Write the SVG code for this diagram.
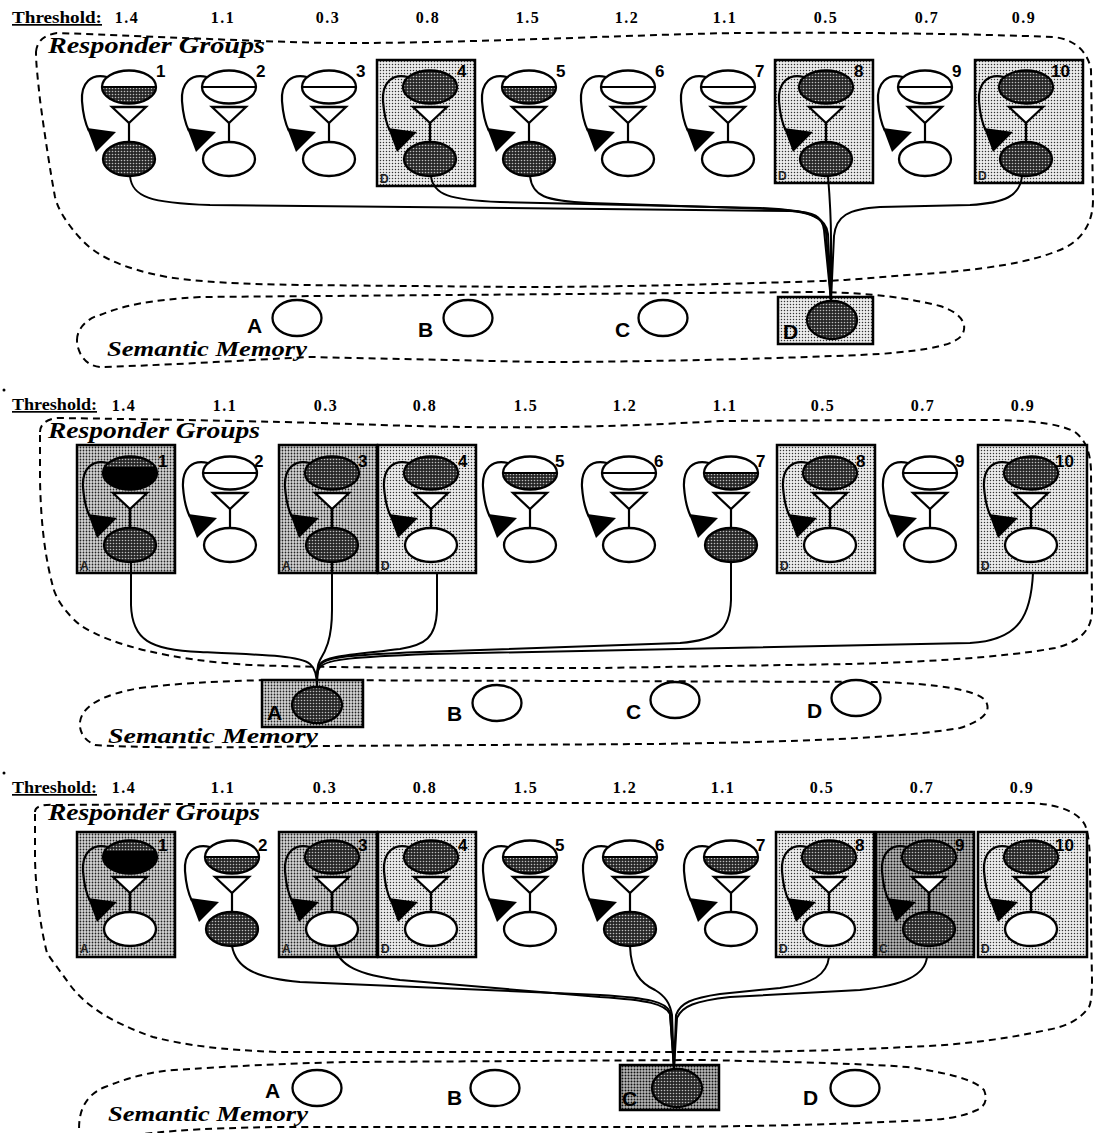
<svg xmlns="http://www.w3.org/2000/svg" width="1094" height="1133" viewBox="0 0 1094 1133">
<style>
  .ln{fill:none;stroke:#000;stroke-width:2.2}
  .cn{fill:none;stroke:#000;stroke-width:2}
  .dash{fill:none;stroke:#000;stroke-width:2;stroke-dasharray:7 5}
  .wt{fill:#fff;stroke:#000;stroke-width:2.3}
  .dk{fill:url(#pd);stroke:#000;stroke-width:2.3}
  .bxL{fill:url(#pl);stroke:#000;stroke-width:2.5}
  .bxM{fill:url(#pm);stroke:#000;stroke-width:2.5}
  .bxK{fill:url(#pk);stroke:#000;stroke-width:2.5}
  .thr{font-family:"Liberation Serif","Times New Roman",serif;font-weight:bold;font-size:16px;letter-spacing:1.5px}
  .thl{font-family:"Liberation Serif","Times New Roman",serif;font-weight:bold;font-size:17px;text-decoration:underline}
  .ttl{font-family:"Liberation Serif","Times New Roman",serif;font-weight:bold;font-style:italic;font-size:23px}
  .smt{font-family:"Liberation Serif","Times New Roman",serif;font-weight:bold;font-style:italic;font-size:20px}
  .num{font-family:"Liberation Sans",Arial,sans-serif;font-weight:bold;font-size:17px}
  .sem{font-family:"Liberation Sans",Arial,sans-serif;font-weight:bold;font-size:21px}
  .tag{font-family:"Liberation Sans",Arial,sans-serif;font-weight:bold;font-size:12px;fill:#222}
</style>
<defs>
  <!-- stipple fills -->
  <pattern id="pd" width="3" height="3" patternUnits="userSpaceOnUse"><rect width="3" height="3" fill="#262626"/><circle cx="1.5" cy="1.5" r="0.8" fill="#bdbdbd"/></pattern>
  <pattern id="pl" width="3" height="3" patternUnits="userSpaceOnUse"><rect width="3" height="3" fill="#ececec"/><circle cx="1.5" cy="1.5" r="0.72" fill="#333"/></pattern>
  <pattern id="pm" width="3" height="3" patternUnits="userSpaceOnUse"><rect width="3" height="3" fill="#d6d6d6"/><circle cx="1.5" cy="1.5" r="0.9" fill="#222"/></pattern>
  <pattern id="pk" width="3" height="3" patternUnits="userSpaceOnUse"><rect width="3" height="3" fill="#b8b8b8"/><circle cx="1.5" cy="1.5" r="1.0" fill="#111"/></pattern>
  <!-- responder unit parts, origin at centre of the upper ellipse -->
  <g id="fb"><path class="ln" d="M-22,-10 C-38,-14 -48,-4 -47,14 C-46,28 -44,36 -40,44"/><polygon points="-42,41 -13,45 -33,65" fill="#000"/></g>
  <g id="ts"><polygon class="wt" points="-17,20 17,20 0,36"/><line class="ln" x1="0" y1="36" x2="0" y2="55"/></g>
  <g id="t0"><ellipse class="wt" rx="27" ry="16.5"/><line class="ln" x1="-27" y1="0" x2="27" y2="0"/></g>
  <g id="t1"><ellipse rx="27" ry="16.5" fill="#fff"/><path d="M-27,0 A27,16.5 0 0 0 27,0 Z" fill="url(#pd)"/><line class="ln" x1="-27" y1="0" x2="27" y2="0"/><ellipse rx="27" ry="16.5" fill="none" stroke="#000" stroke-width="2.3"/></g>
  <g id="t2"><ellipse class="dk" rx="27" ry="16.5"/></g>
  <g id="t3"><ellipse rx="27" ry="16.5" fill="url(#pd)"/><path d="M-25.15,-6 A27,16.5 0 1 0 25.15,-6 Z" fill="#000"/><ellipse rx="27" ry="16.5" fill="none" stroke="#000" stroke-width="2.3"/></g>
  <ellipse id="b0" class="wt" cx="0" cy="72" rx="26" ry="17"/>
  <ellipse id="b1" class="dk" cx="0" cy="72" rx="26" ry="17"/>
</defs>
<rect width="1094" height="1133" fill="#fff"/>

<!-- ===================== panel 1 ===================== -->
<g id="panel-1">
  <text class="thl" x="12" y="23" textLength="90" lengthAdjust="spacingAndGlyphs">Threshold:</text>
  <g class="thr" text-anchor="middle">
    <text x="127" y="23">1.4</text><text x="223" y="23">1.1</text><text x="328" y="23">0.3</text><text x="428" y="23">0.8</text><text x="528" y="23">1.5</text>
    <text x="627" y="23">1.2</text><text x="725" y="23">1.1</text><text x="826" y="23">0.5</text><text x="927" y="23">0.7</text><text x="1024" y="23">0.9</text>
  </g>
  <path class="dash" d="M36,52 C37,41 44,35 57,33 C200,38 300,44 367,43 C500,42 650,34 740,33 C850,32 980,34 1053,37 C1075,39 1088,52 1091,70 L1093,200 C1093,225 1080,242 1060,250 C1030,262 990,270 907,275 C870,278 850,280 823,281 C700,285 600,287 520,287 L300,285 C240,284 200,282 167,277 C120,268 95,255 80,238 C62,218 57,205 55,197 C50,170 44,130 40,100 C38,80 36,65 36,52 Z"/>
  <text class="ttl" x="48" y="53" textLength="217" lengthAdjust="spacingAndGlyphs">Responder Groups</text>
  <path class="dash" d="M77,340 C77,328 88,318 100,315 C125,305 150,300 200,297 L820,292 C870,293 910,298 940,306 C962,313 968,325 962,335 C955,345 930,350 880,354 C800,358 650,362 540,362 L310,357 C250,360 150,366 100,367 C85,366 77,352 77,340 Z"/>
  <text class="smt" x="107" y="356" textLength="200" lengthAdjust="spacingAndGlyphs">Semantic Memory</text>

  <g id="r1-n1" transform="translate(129,87)"><use href="#fb"/><use href="#ts"/><use href="#t1"/><use href="#b1"/><text class="num" x="27" y="-10">1</text></g>
  <g id="r1-n2" transform="translate(229,87)"><use href="#fb"/><use href="#ts"/><use href="#t0"/><use href="#b0"/><text class="num" x="27" y="-10">2</text></g>
  <g id="r1-n3" transform="translate(329,87)"><use href="#fb"/><use href="#ts"/><use href="#t0"/><use href="#b0"/><text class="num" x="27" y="-10">3</text></g>
  <g id="r1-n4" transform="translate(430,87)"><rect class="bxL" x="-53" y="-27" width="98" height="126"/><use href="#fb"/><use href="#ts"/><use href="#t2"/><use href="#b1"/><text class="num" x="27" y="-10">4</text><text class="tag" x="-50" y="96">D</text></g>
  <g id="r1-n5" transform="translate(529,87)"><use href="#fb"/><use href="#ts"/><use href="#t1"/><use href="#b1"/><text class="num" x="27" y="-10">5</text></g>
  <g id="r1-n6" transform="translate(628,87)"><use href="#fb"/><use href="#ts"/><use href="#t0"/><use href="#b0"/><text class="num" x="27" y="-10">6</text></g>
  <g id="r1-n7" transform="translate(728,87)"><use href="#fb"/><use href="#ts"/><use href="#t0"/><use href="#b0"/><text class="num" x="27" y="-10">7</text></g>
  <g id="r1-n8" transform="translate(826,87)"><rect class="bxL" x="-51" y="-27" width="98" height="123"/><use href="#fb"/><use href="#ts"/><use href="#t2"/><use href="#b1"/><text class="num" x="28" y="-10">8</text><text class="tag" x="-48" y="93">D</text></g>
  <g id="r1-n9" transform="translate(925,87)"><use href="#fb"/><use href="#ts"/><use href="#t0"/><use href="#b0"/><text class="num" x="27" y="-10">9</text></g>
  <g id="r1-n10" transform="translate(1026,87)"><rect class="bxL" x="-51" y="-27" width="108" height="123"/><use href="#fb"/><use href="#ts"/><use href="#t2"/><use href="#b1"/><text class="num" x="25" y="-10">10</text><text class="tag" x="-48" y="93">D</text></g>

  <g id="m1-A"><text class="sem" x="247" y="333">A</text><ellipse class="wt" cx="297" cy="318" rx="24.5" ry="18"/></g>
  <g id="m1-B"><text class="sem" x="418" y="337">B</text><ellipse class="wt" cx="468" cy="318" rx="24.5" ry="18"/></g>
  <g id="m1-C"><text class="sem" x="615" y="337">C</text><ellipse class="wt" cx="663" cy="318" rx="24.5" ry="18"/></g>
  <g id="m1-D"><rect class="bxL" x="778" y="297" width="95" height="47"/><text class="sem" x="783" y="339">D</text><ellipse class="dk" cx="832" cy="320" rx="25" ry="19"/></g>
</g>

<!-- ===================== panel 2 ===================== -->
<g id="panel-2">
  <circle cx="4" cy="390" r="1.5" fill="#000"/>
  <text class="thl" x="12" y="410" textLength="85" lengthAdjust="spacingAndGlyphs">Threshold:</text>
  <g class="thr" text-anchor="middle">
    <text x="124" y="411">1.4</text><text x="225" y="411">1.1</text><text x="326" y="411">0.3</text><text x="425" y="411">0.8</text><text x="526" y="411">1.5</text>
    <text x="625" y="411">1.2</text><text x="725" y="411">1.1</text><text x="823" y="411">0.5</text><text x="923" y="411">0.7</text><text x="1023" y="411">0.9</text>
  </g>
  <path class="dash" d="M40,432 C40,424 47,419 57,418 C200,420 300,422 380,425 C500,429 600,428 720,421 C850,420 950,420 1000,420 C1040,421 1062,425 1075,432 C1085,440 1090,450 1091,470 L1092,610 C1092,630 1080,642 1055,648 C1000,658 920,662 850,664 L600,668 C450,668 330,668 250,665 C170,660 110,645 80,625 C62,610 55,595 53,587 C46,560 41,530 40,480 Z"/>
  <text class="ttl" x="48" y="438" textLength="212" lengthAdjust="spacingAndGlyphs">Responder Groups</text>
  <path class="dash" d="M80,722 C82,705 105,694 140,688 C190,682 230,681 270,680 L880,682 C940,684 975,690 985,700 C992,710 985,720 960,728 C900,738 800,742 650,744 L320,746 C220,748 140,748 95,745 C84,740 79,732 80,722 Z"/>
  <text class="smt" x="108" y="743" textLength="210" lengthAdjust="spacingAndGlyphs">Semantic Memory</text>

  <g id="r2-n1" transform="translate(130,473)"><rect class="bxM" x="-53" y="-28" width="98" height="128"/><use href="#fb"/><use href="#ts"/><use href="#t3"/><use href="#b1"/><text class="num" x="28" y="-6">1</text><text class="tag" x="-50" y="97">A</text></g>
  <g id="r2-n2" transform="translate(230,473)"><use href="#fb"/><use href="#ts"/><use href="#t0"/><use href="#b0"/><text class="num" x="24" y="-6">2</text></g>
  <g id="r2-n3" transform="translate(332,473)"><rect class="bxM" x="-53" y="-28" width="98" height="128"/><use href="#fb"/><use href="#ts"/><use href="#t2"/><use href="#b1"/><text class="num" x="26" y="-6">3</text><text class="tag" x="-50" y="97">A</text></g>
  <g id="r2-n4" transform="translate(431,473)"><rect class="bxL" x="-53" y="-28" width="98" height="128"/><use href="#fb"/><use href="#ts"/><use href="#t2"/><use href="#b0"/><text class="num" x="27" y="-6">4</text><text class="tag" x="-50" y="97">D</text></g>
  <g id="r2-n5" transform="translate(530,473)"><use href="#fb"/><use href="#ts"/><use href="#t1"/><use href="#b0"/><text class="num" x="25" y="-6">5</text></g>
  <g id="r2-n6" transform="translate(629,473)"><use href="#fb"/><use href="#ts"/><use href="#t0"/><use href="#b0"/><text class="num" x="25" y="-6">6</text></g>
  <g id="r2-n7" transform="translate(731,473)"><use href="#fb"/><use href="#ts"/><use href="#t1"/><use href="#b1"/><text class="num" x="25" y="-6">7</text></g>
  <g id="r2-n8" transform="translate(830,473)"><rect class="bxL" x="-53" y="-28" width="98" height="128"/><use href="#fb"/><use href="#ts"/><use href="#t2"/><use href="#b0"/><text class="num" x="26" y="-6">8</text><text class="tag" x="-50" y="97">D</text></g>
  <g id="r2-n9" transform="translate(930,473)"><use href="#fb"/><use href="#ts"/><use href="#t0"/><use href="#b0"/><text class="num" x="25" y="-6">9</text></g>
  <g id="r2-n10" transform="translate(1031,473)"><rect class="bxL" x="-53" y="-28" width="109" height="128"/><use href="#fb"/><use href="#ts"/><use href="#t2"/><use href="#b0"/><text class="num" x="24" y="-6">10</text><text class="tag" x="-50" y="97">D</text></g>

  <g id="m2-A"><rect class="bxM" x="262" y="680" width="101" height="47"/><text class="sem" x="267" y="720">A</text><ellipse class="dk" cx="317" cy="705" rx="25" ry="18"/></g>
  <g id="m2-B"><text class="sem" x="447" y="721">B</text><ellipse class="wt" cx="497" cy="703" rx="24.5" ry="18"/></g>
  <g id="m2-C"><text class="sem" x="626" y="719">C</text><ellipse class="wt" cx="675" cy="700" rx="24.5" ry="18"/></g>
  <g id="m2-D"><text class="sem" x="807" y="718">D</text><ellipse class="wt" cx="856" cy="698" rx="24.5" ry="18"/></g>
</g>

<!-- ===================== panel 3 ===================== -->
<g id="panel-3">
  <circle cx="4" cy="773" r="1.5" fill="#000"/>
  <text class="thl" x="12" y="793" textLength="85" lengthAdjust="spacingAndGlyphs">Threshold:</text>
  <g class="thr" text-anchor="middle">
    <text x="124" y="793">1.4</text><text x="223" y="793">1.1</text><text x="325" y="793">0.3</text><text x="425" y="793">0.8</text><text x="526" y="793">1.5</text>
    <text x="625" y="793">1.2</text><text x="723" y="793">1.1</text><text x="822" y="793">0.5</text><text x="922" y="793">0.7</text><text x="1022" y="793">0.9</text>
  </g>
  <path class="dash" d="M35,812 C35,806 44,804 57,805 C200,804 300,803 380,803 L1033,803 C1060,805 1078,812 1085,825 C1089,835 1090,850 1090,870 L1092,980 C1092,995 1091,1003 1089,1007 C1080,1020 1065,1027 1047,1030 C1000,1040 960,1045 907,1047 C850,1050 780,1052 698,1052 L279,1052 C220,1050 185,1045 153,1037 C110,1022 85,1005 70,985 C58,968 50,958 47,953 C40,925 36,893 35,860 Z"/>
  <text class="ttl" x="48" y="820" textLength="212" lengthAdjust="spacingAndGlyphs">Responder Groups</text>
  <path class="dash" d="M80,1140 C77,1120 80,1097 105,1087 C130,1077 150,1072 174,1070 C250,1065 300,1063 349,1062 L700,1060 C800,1062 870,1064 907,1067 C950,1073 975,1080 984,1090 C988,1100 985,1106 977,1110 C960,1118 940,1120 907,1121 C800,1126 700,1127 628,1127 L279,1127 C200,1128 140,1132 110,1140"/>
  <text class="smt" x="108" y="1121" textLength="200" lengthAdjust="spacingAndGlyphs">Semantic Memory</text>

  <g id="r3-n1" transform="translate(130,857)"><rect class="bxM" x="-53" y="-25" width="98" height="125"/><use href="#fb"/><use href="#ts"/><use href="#t3"/><use href="#b0"/><text class="num" x="28" y="-6">1</text><text class="tag" x="-50" y="96">A</text></g>
  <g id="r3-n2" transform="translate(232,857)"><use href="#fb"/><use href="#ts"/><use href="#t1"/><use href="#b1"/><text class="num" x="26" y="-6">2</text></g>
  <g id="r3-n3" transform="translate(332,857)"><rect class="bxM" x="-53" y="-25" width="98" height="125"/><use href="#fb"/><use href="#ts"/><use href="#t2"/><use href="#b0"/><text class="num" x="26" y="-6">3</text><text class="tag" x="-50" y="96">A</text></g>
  <g id="r3-n4" transform="translate(431,857)"><rect class="bxL" x="-53" y="-25" width="98" height="125"/><use href="#fb"/><use href="#ts"/><use href="#t2"/><use href="#b0"/><text class="num" x="27" y="-6">4</text><text class="tag" x="-50" y="96">D</text></g>
  <g id="r3-n5" transform="translate(530,857)"><use href="#fb"/><use href="#ts"/><use href="#t1"/><use href="#b0"/><text class="num" x="25" y="-6">5</text></g>
  <g id="r3-n6" transform="translate(630,857)"><use href="#fb"/><use href="#ts"/><use href="#t1"/><use href="#b1"/><text class="num" x="25" y="-6">6</text></g>
  <g id="r3-n7" transform="translate(731,857)"><use href="#fb"/><use href="#ts"/><use href="#t1"/><use href="#b0"/><text class="num" x="25" y="-6">7</text></g>
  <g id="r3-n8" transform="translate(829,857)"><rect class="bxL" x="-53" y="-25" width="98" height="125"/><use href="#fb"/><use href="#ts"/><use href="#t2"/><use href="#b0"/><text class="num" x="26" y="-6">8</text><text class="tag" x="-50" y="96">D</text></g>
  <g id="r3-n9" transform="translate(929,857)"><rect class="bxK" x="-53" y="-25" width="98" height="125"/><use href="#fb"/><use href="#ts"/><use href="#t2"/><use href="#b1"/><text class="num" x="26" y="-6">9</text><text class="tag" x="-50" y="96">C</text></g>
  <g id="r3-n10" transform="translate(1031,857)"><rect class="bxL" x="-53" y="-25" width="109" height="125"/><use href="#fb"/><use href="#ts"/><use href="#t2"/><use href="#b0"/><text class="num" x="24" y="-6">10</text><text class="tag" x="-50" y="96">D</text></g>

  <g id="m3-A"><text class="sem" x="265" y="1098">A</text><ellipse class="wt" cx="317" cy="1088" rx="24.5" ry="18"/></g>
  <g id="m3-B"><text class="sem" x="447" y="1105">B</text><ellipse class="wt" cx="495" cy="1088" rx="24.5" ry="18"/></g>
  <g id="m3-C"><rect class="bxK" x="620" y="1065" width="99" height="45"/><text class="sem" x="622" y="1106">C</text><ellipse class="dk" cx="677" cy="1088" rx="25" ry="19"/></g>
  <g id="m3-D"><text class="sem" x="803" y="1105">D</text><ellipse class="wt" cx="855" cy="1088" rx="24.5" ry="18"/></g>
</g>

<!-- ===================== connectors ===================== -->
<g id="connectors" class="cn">
  <g id="links-1">
    <path d="M130,176 C132,197 150,203 210,205 L790,211 C815,212 822,216 824,230 L831,301"/>
    <path d="M431,176 C433,195 450,200 500,202 L760,208 C810,210 824,216 826,232 L831,301"/>
    <path d="M530,176 C532,196 545,201 590,203 L770,209 C812,211 826,218 828,234 L831,301"/>
    <path d="M828,176 C830,200 831,215 831,240 L831,301"/>
    <path d="M1022,176 C1020,196 1005,203 970,205 L880,207 C848,209 836,216 834,236 L831,301"/>
  </g>
  <g id="links-2">
    <path d="M131,562 L131,605 C132,640 150,650 200,652 C270,655 300,656 310,664 C315,668 317,675 317,687"/>
    <path d="M332,562 L332,610 C332,640 325,652 320,660 C317,665 317,672 317,687"/>
    <path d="M437,573 L437,610 C436,638 425,645 400,649 C350,655 325,656 320,664 C317,668 317,675 317,687"/>
    <path d="M731,562 L731,600 C730,630 718,640 680,643 L420,652 C350,655 326,657 320,665 C317,669 317,676 317,687"/>
    <path d="M1033,573 C1031,615 1020,640 970,643 L430,654 C355,657 327,659 320,667 C317,671 317,677 317,687"/>
  </g>
  <g id="links-3">
    <path d="M232,946 C236,968 255,978 300,982 L600,995 C650,998 666,1002 670,1012 L674,1069"/>
    <path d="M335,946 C338,966 360,975 400,980 L600,997 C648,1000 665,1004 670,1014 L674,1069"/>
    <path d="M630,946 C631,972 640,983 655,990 C665,996 670,1003 672,1015 L674,1069"/>
    <path d="M829,957 C827,975 812,984 780,988 L720,994 C692,998 680,1003 676,1015 L674,1069"/>
    <path d="M927,957 C925,975 905,985 860,990 L730,997 C695,1001 682,1006 677,1018 L674,1069"/>
  </g>
</g>
</svg>
